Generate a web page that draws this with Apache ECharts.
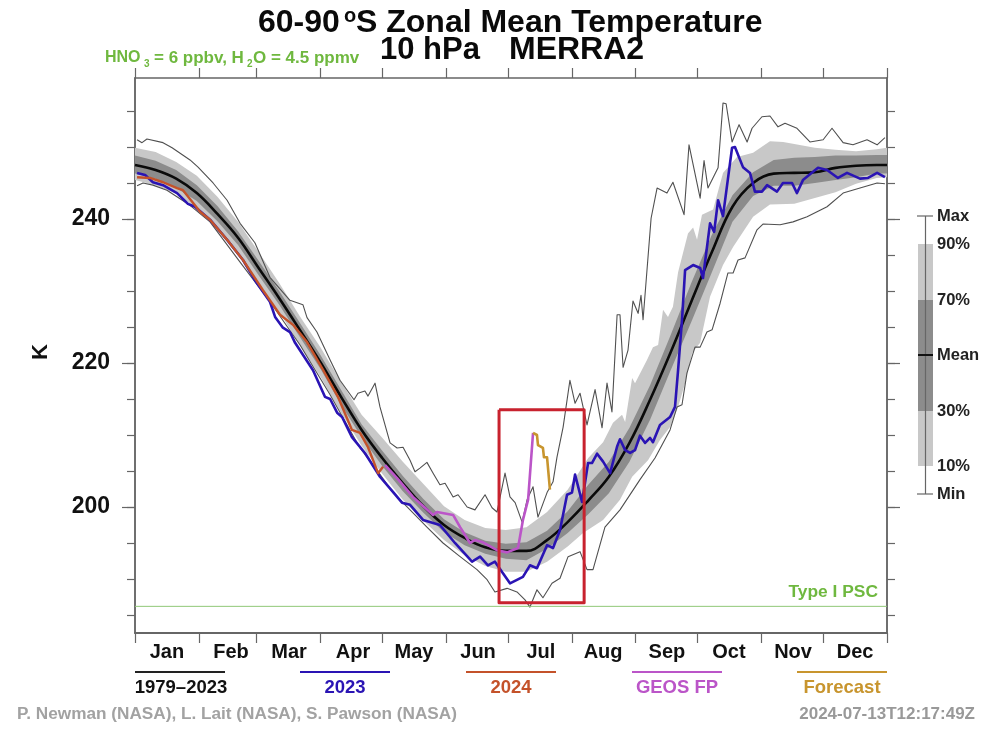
<!DOCTYPE html>
<html><head><meta charset="utf-8">
<style>html,body{margin:0;padding:0;background:#fff}#c{width:1000px;height:732px}</style>
<script src="https://cdn.jsdelivr.net/npm/echarts@6/dist/echarts.min.js"></script>
</head><body><div id="c"></div>
<script>
const monthNames=['Jan','Feb','Mar','Apr','May','Jun','Jul','Aug','Sep','Oct','Nov','Dec'];
const monthStarts=[0,31,59,90,120,151,181,212,243,273,304,334,365];
const monthLabelDays=[15.5,46.6,74.8,105.8,135.4,166.5,197,227.2,258.2,288.3,319.4,349.5];
const minorTicks=[185,190,195,200,205,210,215,220,225,230,235,240,245,250,255];
const majorTicks=[200,220,240];
const bandDays=[0,10,20,30,40,50,60,70,80,90,100,110,120,130,140,150,160,170,180,190,200,210,220,230,240,250,260,270,280,290,300,310,320,330,340,350,360,365];
const meanK=[247.5,246.8,245.6,243.6,240.7,237.4,233.2,229.0,224.6,220.1,215.3,210.7,206.8,203.3,200.1,197.5,195.7,194.4,193.9,193.9,195.4,197.9,200.9,204.2,208.9,214.9,221.5,228.5,235.4,241.7,245.0,246.3,246.4,246.5,247.1,247.4,247.5,247.5];
const p70K=[248.8,248.1,246.8,244.7,241.8,238.3,234.2,230.0,225.6,221.1,216.3,211.5,207.8,204.3,201.1,198.3,196.5,195.3,194.9,195.1,196.7,199.4,203.1,206.3,211.0,216.9,223.9,231.1,237.8,243.3,246.5,248.2,248.5,248.6,248.8,248.8,248.9,248.9];
const p30K=[246.3,245.6,244.3,242.5,239.7,236.4,232.2,228.1,223.6,219.2,214.2,209.7,205.7,202.2,199.2,196.5,194.7,193.5,192.8,192.6,194.2,196.4,199.0,201.9,206.3,212.1,219.0,225.7,232.6,239.6,243.2,244.6,244.6,245.0,245.4,245.8,246.3,246.3];
const p90Days=[0,10,20,30,40,50,60,70,80,90,100,110,120,130,140,150,160,170,180,190,200,210,220,227.2,232,236.4,237.9,241.3,242.7,248.5,251.4,253.9,256.3,258.7,261.1,263.6,268.4,270.9,272.8,275.2,280.6,285.4,292.2,300,308.2,314.6,320,330,340,350,360,365];
const p90K=[249.9,249.3,247.9,246.0,243.1,239.6,235.4,231.1,226.5,222.2,217.4,212.8,209.6,206.3,203.2,200.1,198.2,197.1,196.8,197.2,199.3,202.4,206.8,209.0,211.7,212.8,211.8,217.9,217.2,220.4,222.2,222.5,227.4,226.4,227.8,232.6,238.0,238.8,237.1,240.6,241.3,246.4,248.6,249.2,250.8,250.7,250.4,249.9,249.6,249.4,249.7,249.9];
const p10Days=[0,10,20,30,40,50,60,70,80,90,100,110,120,130,140,150,160,170,180,190,200,210,217.5,227.2,235.4,241.3,249,254.8,259.7,263.6,267,270.4,274.3,279.1,285.4,290.3,300,308.2,320,330,340,350,360,365];
const p10K=[245.4,244.7,243.5,241.5,238.8,235.4,231.1,227.1,222.5,218.1,213.1,208.5,204.6,201.0,198.1,195.4,193.3,191.8,191.0,191.0,192.4,194.5,196.4,198.2,201.0,204.2,206.5,209.3,211.1,213.9,217.2,221.4,222.8,229.2,233.6,236.1,240.3,242.0,242.1,242.9,243.7,244.9,245.7,245.8];
const maxDays=[1,3.4,5.8,13.6,18,26.7,30.6,37.9,44.7,51,58.2,65.5,75.2,81.5,83.5,88.3,94.7,99.5,106.3,108.2,111.6,113.1,116.5,118.9,123.8,127.2,130.1,133.5,135.9,138.3,141.7,144.7,148,150.5,154.4,156.8,161.2,165,169.9,173.3,175.7,179.6,182,184.5,187.9,190.3,193.2,195.6,200,202.9,204.8,207.8,211.1,213.6,216,219.4,223.3,226.7,229.1,231.5,234,235.4,236.9,239.3,241.7,244.2,245.6,246.6,250.5,251.4,253.4,258.2,261.1,266.5,268.9,274.3,276.2,278.1,283,285.4,286.9,289.8,293.2,297.1,299.5,304.3,308.2,312.1,315.5,321.3,327.6,334,338.3,343.7,348.5,355.3,360.2,364];
const maxK=[251,250.6,251.1,250.6,249.9,248.2,247.2,245,242.6,239.4,236.7,231.9,228.7,228.1,226.3,224.3,220.4,217.6,214.9,215.8,216.1,215.4,217.2,213.9,208.9,208.2,208.3,206.5,204.9,205.4,206.2,204.7,203.1,203.3,201.4,201.7,200,199.6,201.7,199.9,199.3,204.7,201.4,200.6,197.9,201,202.8,198.6,202,203.5,206.9,211.1,217.6,214.4,215.8,211.4,216.3,211,217.2,213.2,226.7,226.7,219.4,221.8,228.6,226.9,229.4,226,240.1,240.1,244.3,243.6,245.1,240.6,250.3,242.9,248.1,244.3,247.1,256.1,256,250.7,253.1,250.7,252.6,254.2,254.3,252.8,253.3,252.6,250.7,251,252.6,250.6,250.3,251,250.3,251.3];
const minDays=[1,3.9,8.7,15.5,26.7,36.4,51,65.5,80.1,94.7,109.2,117.5,125.2,133.5,141.7,149.5,157.8,166,170.9,174.7,180.6,185.4,189.3,191.7,195.1,198,202.4,206.3,210.2,216,219.4,222.3,228.1,235.4,245.1,252.4,259.7,263.1,265.5,267.9,271.8,274.3,277.6,280.1,284,287.8,290.3,292.7,296.1,301.9,304.8,313.1,319.4,326.2,335.9,343.7,351.9,360.2,364];
const minK=[244.6,245,244.7,244,241.9,239.6,234,228.5,222.5,215.6,208.2,205.1,202,199.6,197.2,195,193.1,191.3,189.9,188.2,188.7,188.2,187.1,186.1,188.5,187.4,189.4,190.1,193.1,193.8,191.3,191.3,197.2,199.6,203.8,206.8,210.7,213.9,214.2,218.6,222.2,222.2,224.3,224.6,228.3,232.5,232.5,234.3,234.6,238.5,239.3,239.2,239.6,240.3,241.7,243.6,244.3,245,244.9];
const y2023Days=[1,4.9,8.7,13.6,20.4,25.7,29.1,36.4,44.7,52.4,58.2,65.5,68,71.8,75.2,77.7,86.4,92.2,94.7,98.1,100.5,105.3,111.6,118.9,125.2,129.6,133.5,139.8,148,155.3,163.6,167.5,171.3,174.7,182,188.3,191.7,195.1,200,202.9,206.3,209.7,212.1,213.6,217,219.9,221.8,224.3,227.2,230.6,234,235.4,237.9,240.3,242.7,245.1,247.6,250,251.4,254.8,259.7,262.1,263.6,265.5,267,270.9,274.3,275.7,279.1,281.1,283,285.4,289.8,291.2,295.1,298.5,300.9,304.3,306.8,311.6,314.5,318.9,321.3,324.2,331.5,335.9,341.2,345.6,351.9,355.8,360.2,364];
const y2023K=[246.4,246.1,245.1,244.7,243.6,242.1,241.7,239.9,237.1,234.3,231.5,228.5,226.4,224.9,224.3,222.8,219,215.3,215,213.1,212.5,209.7,207.5,204.2,202.1,200.6,200.3,198.2,197.5,195,192.4,193.1,191.9,192.4,189.4,190.3,191.9,191.5,194.7,194.3,196.8,201.7,202,204.5,200.7,206.1,206.1,207.4,206.3,204.7,208.4,209.4,207.9,207.5,207.9,209.9,208.9,209.6,209,211.4,212.5,213.9,219,226,232.9,233.6,233.2,231.8,239.4,238.2,242.6,240.4,249.9,250,247.2,246.4,243.8,243.8,244.7,243.8,245,245,243.6,245.4,247.1,246.8,245.7,246.4,245.6,245.7,246.4,245.8];
const y2024Days=[1,7.3,13.6,20.4,23.3,31.6,36.4,44.7,52.4,62.1,70.4,76.7,83.5,90.8,98.5,105.3,109.2,113.1,118,120.4];
const y2024K=[245.8,245.7,245.1,244.3,244,241,239.9,237.1,234.3,230.1,226.7,225.3,222.9,219.3,215.3,210.7,210.3,208.3,204.7,205.6];
const geosDays=[121.4,127.2,134.9,144.7,146.6,154.4,157.8,162.6,165,168.9,175.7,180.6,185.9,188.3,190.8,193.2];
const geosK=[205.8,204,201.4,198.9,199.3,198.9,197.2,195,195.4,195.1,194,193.7,194.3,198.2,201,210.3];
const fcstDays=[193.2,195.1,195.6,198,198.5,200,201.4];
const fcstK=[210.3,210,208.6,208.2,206.9,206.9,202.4];
const pscK=186.2;
const boxDays=[176.7,218];
const boxK=[186.7,213.5];

const FF='"Liberation Sans",Arial,sans-serif';
const C={axis:'#666',light:'#c8c8c8',dark:'#8c8c8c',blue:'#2a14b4',red:'#c4522a',purple:'#bb55c8',gold:'#c8952e',green:'#6fb83f',foot:'#a2a2a2'};
const zip=(a,b)=>a.map((v,i)=>[v,b[i]]);
const line=(name,d,v,color,width,z,extra)=>Object.assign({name,type:'line',data:zip(d,v),symbol:'none',showSymbol:false,silent:true,animation:false,z,lineStyle:{color,width,join:'round'}},extra||{});
const band=(name,hiDays,hi,loDays,lo,fill,z)=>({name,type:'custom',silent:true,animation:false,z,clip:true,
  data:zip(hiDays,hi).concat(zip(loDays,lo)),encode:{x:0,y:1},
  renderItem(p,api){
    if(p.dataIndex!==hiDays.length+loDays.length-1) return null;
    const pts=[];
    for(let i=0;i<hiDays.length;i++) pts.push(api.coord([hiDays[i],hi[i]]));
    for(let i=loDays.length-1;i>=0;i--) pts.push(api.coord([loDays[i],lo[i]]));
    return {type:'polygon',shape:{points:pts},style:{fill,stroke:null}};
  }});
const txt=(x,y,text,size,fill,align)=>({type:'text',silent:true,z:50,style:{x,y,text,fontFamily:FF,fontSize:size,fontWeight:'bold',fill,textAlign:align||'left',textVerticalAlign:'middle'}});
const rule=(x1,y1,x2,y2,color,w)=>({type:'line',silent:true,z:50,shape:{x1,y1,x2,y2},style:{stroke:color,lineWidth:w}});
const box=(x,y,w,h,fill)=>({type:'rect',silent:true,z:49,shape:{x,y,width:w,height:h},style:{fill}});

const sideY=(position,ticks,len,labels)=>({type:'value',position,min:182.5,max:259.58,scale:false,splitLine:{show:false},
  axisLine:{show:true,onZero:false,lineStyle:{color:C.axis,width:1.5}},
  axisTick:{show:true,customValues:ticks,length:len,lineStyle:{color:C.axis,width:1.2}},
  axisLabel:labels?{show:true,customValues:ticks,margin:25,padding:[3,0,0,0],fontFamily:FF,fontWeight:'bold',fontSize:23,color:'#111'}:{show:false}});

const elements=[
 txt(258,23,'60-90',32,'#0a0a0a'),txt(344,16,'o',20,'#0a0a0a'),txt(356,23,'S Zonal Mean Temperature',32,'#0a0a0a'),
 txt(380,50,'10 hPa',31,'#0a0a0a'),txt(509,50,'MERRA2',32,'#0a0a0a'),
 txt(105,58,'HNO',16,C.green),txt(144,64,'3',10,C.green),txt(154,58,'= 6 ppbv, H',17,C.green),txt(247,64,'2',10,C.green),txt(253,58,'O = 4.5 ppmv',17,C.green),
 txt(878,592,'Type I PSC',17.4,C.green,'right'),
 {type:'text',silent:true,z:50,x:41,y:352,rotation:Math.PI/2,style:{x:0,y:0,text:'K',fontFamily:FF,fontSize:22,fontWeight:'bold',fill:'#111',textAlign:'center',textVerticalAlign:'middle'}},
 rule(135,672,225,672,'#222',2),txt(181,688,'1979–2023',18.5,'#111','center'),
 rule(300,672,390,672,C.blue,2),txt(345,688,'2023',18.5,C.blue,'center'),
 rule(466,672,556,672,C.red,2),txt(511,688,'2024',18.5,C.red,'center'),
 rule(632,672,722,672,C.purple,2),txt(677,688,'GEOS FP',18.5,C.purple,'center'),
 rule(797,672,887,672,C.gold,2),txt(842,688,'Forecast',18.5,C.gold,'center'),
 txt(17,714,'P. Newman (NASA), L. Lait (NASA), S. Pawson (NASA)',17.2,C.foot),
 txt(975,714,'2024-07-13T12:17:49Z',17,'#999','right'),
 rule(925.5,216,925.5,494,C.axis,1.2),rule(917,216,933,216,C.axis,1.2),rule(917,494,933,494,C.axis,1.2),
 box(918,244,15,222,C.light),box(918,300,15,111,C.dark),rule(918,355,933,355,'#111',2),
 txt(937,216,'Max',16.5,'#222'),txt(937,244,'90%',16.5,'#222'),txt(937,300,'70%',16.5,'#222'),txt(937,355,'Mean',16.5,'#222'),
 txt(937,411,'30%',16.5,'#222'),txt(937,466,'10%',16.5,'#222'),txt(937,494,'Min',16.5,'#222')
];

const chart=echarts.init(document.getElementById('c'),null,{renderer:'canvas'});
chart.setOption({
 animation:false,backgroundColor:'#fff',
 grid:{left:135,top:78,width:752,height:555,containLabel:false},
 xAxis:[
  {type:'value',position:'bottom',min:0,max:365,splitLine:{show:false},
   axisLine:{show:true,onZero:false,lineStyle:{color:C.axis,width:2}},
   axisTick:{show:true,customValues:monthStarts,length:10,lineStyle:{color:C.axis,width:1.2}},
   axisLabel:{show:true,customValues:monthLabelDays,margin:9,fontFamily:FF,fontWeight:'bold',fontSize:20,color:'#111',
     formatter:v=>monthNames[monthLabelDays.indexOf(v)]}},
  {type:'value',position:'top',min:0,max:365,splitLine:{show:false},
   axisLine:{show:true,onZero:false,lineStyle:{color:C.axis,width:1.5}},
   axisTick:{show:true,customValues:monthStarts,length:10,lineStyle:{color:C.axis,width:1.2}},
   axisLabel:{show:false}}
 ],
 yAxis:[sideY('left',minorTicks,8,false),sideY('left',majorTicks,13,true),sideY('right',minorTicks,8,false),sideY('right',majorTicks,13,false)],
 series:[
  band('p10-90',p90Days,p90K,p10Days,p10K,C.light,1),
  band('p30-70',bandDays,p70K,bandDays,p30K,C.dark,2),
  line('Max',maxDays,maxK,'#505050',1.1,3),
  line('Min',minDays,minK,'#505050',1.1,3),
  line('PSC',[0,365],[pscK,pscK],'#90c878',1,3),
  line('1979–2023',bandDays,meanK,'#0a0a0a',2.6,5,{smooth:0.4}),
  line('2023',y2023Days,y2023K,C.blue,2.6,6),
  line('2024',y2024Days,y2024K,C.red,2.4,7),
  line('GEOS FP',geosDays,geosK,C.purple,2.6,8),
  line('Forecast',fcstDays,fcstK,C.gold,2.6,9),
  line('Box',[boxDays[0],boxDays[1],boxDays[1],boxDays[0],boxDays[0]],[boxK[1],boxK[1],boxK[0],boxK[0],boxK[1]],'#c8222e',3,10)
 ],
 graphic:{elements}
});
</script></body></html>
